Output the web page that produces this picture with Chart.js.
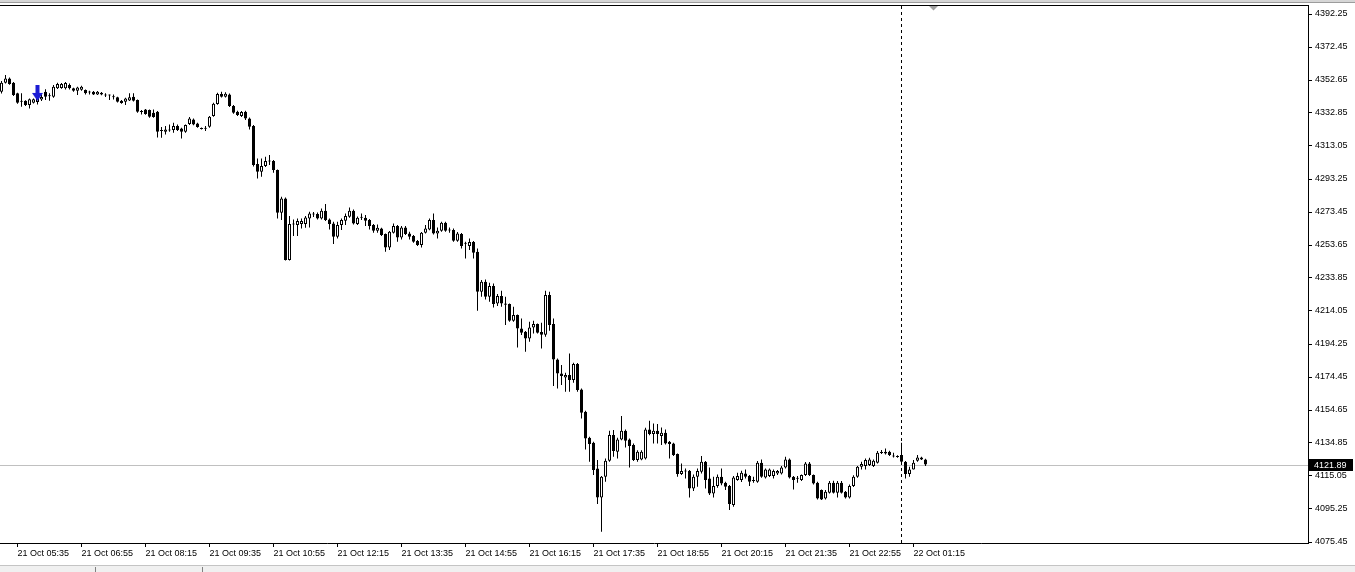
<!DOCTYPE html>
<html>
<head>
<meta charset="utf-8">
<title>M5 chart</title>
<script src="https://cdn.jsdelivr.net/npm/chart.js@4.4.1/dist/chart.umd.min.js"></script>
<style>
  html, body { margin: 0; padding: 0; background: #fff; overflow: hidden; }
  canvas { display: block; }
</style>
</head>
<body>
<canvas id="priceChart" width="1355" height="572"></canvas>
<script>
// ===== M5 candles, 21 Oct 05:15 -> 22 Oct 01:30 =====

const opens = [
    4345.6, 4351.0, 4353.6, 4351.0, 4344.7, 4339.6, 4340.2, 4337.6, 4339.0, 4339.5,
    4341.0, 4345.6, 4343.2, 4342.6, 4347.7, 4347.9, 4347.7, 4349.6, 4347.7, 4346.2,
    4346.8, 4346.6, 4345.5, 4345.6, 4344.0, 4345.0, 4343.8, 4343.8, 4342.7, 4342.3,
    4340.2, 4339.6, 4340.4, 4342.6, 4340.6, 4334.0, 4335.0, 4334.6, 4333.0, 4333.6,
    4322.6, 4321.6, 4322.4, 4322.6, 4325.0, 4323.6, 4321.6, 4326.2, 4329.0, 4326.5,
    4323.7, 4323.4, 4324.6, 4331.0, 4338.2, 4344.2, 4342.6, 4344.0, 4337.0, 4333.6,
    4331.0, 4333.6, 4329.6, 4325.0, 4302.2, 4297.6, 4301.0, 4304.2, 4304.0, 4298.6,
    4273.0, 4281.6, 4244.6, 4266.4, 4265.6, 4266.2, 4266.2, 4269.6, 4272.4, 4272.2,
    4269.6, 4274.2, 4269.0, 4266.6, 4258.6, 4265.6, 4268.2, 4270.6, 4274.2, 4266.2,
    4270.4, 4270.0, 4268.6, 4265.6, 4262.2, 4263.6, 4260.2, 4252.2, 4261.0, 4265.0,
    4258.2, 4264.2, 4260.6, 4259.0, 4256.0, 4253.6, 4261.0, 4263.0, 4268.6, 4260.6,
    4262.2, 4267.0, 4262.8, 4262.6, 4256.2, 4260.2, 4254.8, 4253.0, 4255.4, 4249.6,
    4225.6, 4231.6, 4222.6, 4229.0, 4218.6, 4223.0, 4218.6, 4218.2, 4208.2, 4211.6,
    4203.6, 4201.6, 4197.6, 4204.2, 4206.2, 4201.4, 4199.8, 4223.6, 4206.2, 4185.0,
    4176.6, 4174.2, 4175.6, 4172.6, 4182.2, 4167.0, 4153.6, 4138.0, 4135.0, 4119.6,
    4102.2, 4114.6, 4124.2, 4139.6, 4129.6, 4137.0, 4142.2, 4137.0, 4133.6, 4124.6,
    4125.0, 4125.6, 4143.0, 4140.2, 4142.2, 4139.0, 4141.0, 4135.6, 4134.6, 4128.2,
    4116.2, 4118.2, 4118.2, 4107.6, 4114.6, 4117.6, 4123.6, 4113.6, 4104.6, 4109.0,
    4114.6, 4111.0, 4109.0, 4097.6, 4112.6, 4112.6, 4116.6, 4115.0, 4112.4, 4111.6,
    4123.0, 4114.2, 4115.0, 4115.0, 4116.6, 4116.6, 4120.2, 4125.0, 4114.6, 4113.8,
    4112.6, 4115.6, 4122.6, 4115.6, 4111.0, 4106.6, 4101.6, 4105.0, 4111.0, 4105.0,
    4111.0, 4105.6, 4102.2, 4109.0, 4114.6, 4120.6, 4121.0, 4121.6, 4121.0, 4123.0,
    4129.2, 4129.6, 4129.6, 4127.2, 4126.8, 4127.6, 4123.6, 4116.2, 4119.0, 4124.2,
    4126.2, 4125.0
];
const highs = [
    4352.0, 4355.6, 4354.2, 4351.5, 4345.0, 4344.7, 4340.5, 4341.5, 4341.5, 4343.0,
    4344.0, 4347.1, 4344.7, 4349.6, 4351.0, 4350.8, 4351.5, 4350.5, 4348.0, 4348.6,
    4349.2, 4347.0, 4346.2, 4346.0, 4346.0, 4345.5, 4344.7, 4344.0, 4344.0, 4342.6,
    4340.6, 4342.0, 4344.7, 4344.7, 4341.0, 4334.6, 4335.3, 4335.0, 4335.0, 4334.0,
    4324.5, 4325.0, 4326.0, 4327.0, 4326.0, 4324.0, 4326.0, 4330.5, 4329.6, 4327.0,
    4324.2, 4325.0, 4331.0, 4339.0, 4345.0, 4345.6, 4345.3, 4344.6, 4337.6, 4334.2,
    4334.0, 4334.2, 4330.2, 4325.6, 4305.6, 4305.6, 4306.6, 4307.6, 4304.6, 4299.0,
    4282.6, 4282.2, 4271.0, 4269.0, 4269.6, 4269.6, 4271.0, 4273.6, 4273.5, 4273.2,
    4275.6, 4278.2, 4269.6, 4267.6, 4267.6, 4269.6, 4272.6, 4276.2, 4275.0, 4270.8,
    4272.6, 4271.6, 4269.2, 4266.2, 4266.0, 4264.0, 4260.6, 4262.0, 4266.6, 4265.6,
    4265.0, 4265.0, 4261.6, 4259.6, 4256.6, 4261.5, 4265.6, 4269.6, 4272.6, 4264.2,
    4267.6, 4267.6, 4264.2, 4263.6, 4261.5, 4260.8, 4255.6, 4257.6, 4256.0, 4251.6,
    4232.6, 4233.0, 4231.0, 4230.6, 4224.2, 4226.2, 4222.6, 4218.6, 4216.6, 4212.0,
    4209.6, 4202.0, 4207.6, 4208.2, 4206.6, 4207.0, 4226.2, 4225.6, 4209.6, 4185.6,
    4181.6, 4177.0, 4188.6, 4183.0, 4182.8, 4167.6, 4154.2, 4138.6, 4135.6, 4124.6,
    4115.0, 4125.6, 4142.2, 4142.6, 4138.0, 4151.0, 4143.0, 4137.6, 4134.5, 4130.5,
    4130.5, 4144.0, 4148.2, 4146.6, 4146.2, 4144.2, 4143.0, 4136.0, 4135.0, 4128.6,
    4122.6, 4119.6, 4118.6, 4116.0, 4119.6, 4127.0, 4124.0, 4120.2, 4114.6, 4116.0,
    4119.6, 4111.6, 4109.6, 4115.0, 4117.0, 4118.2, 4119.0, 4115.6, 4114.6, 4124.0,
    4125.0, 4119.6, 4119.5, 4119.0, 4118.6, 4121.0, 4126.6, 4125.5, 4115.0, 4115.0,
    4116.0, 4123.5, 4123.5, 4116.0, 4111.6, 4107.0, 4106.6, 4112.0, 4112.2, 4112.0,
    4112.0, 4106.0, 4110.0, 4115.5, 4121.0, 4123.6, 4125.5, 4126.0, 4125.0, 4130.0,
    4130.6, 4131.6, 4130.2, 4129.0, 4127.5, 4135.0, 4124.0, 4120.6, 4124.6, 4127.6,
    4126.6, 4125.4
];
const lows = [
    4344.5, 4350.5, 4349.8, 4343.0, 4338.4, 4336.6, 4337.0, 4335.6, 4338.5, 4338.0,
    4340.0, 4340.6, 4340.2, 4342.0, 4347.2, 4347.4, 4347.0, 4347.0, 4345.6, 4343.6,
    4346.2, 4344.0, 4344.0, 4343.6, 4343.6, 4343.5, 4342.4, 4340.7, 4341.0, 4339.2,
    4338.4, 4337.6, 4340.0, 4339.8, 4333.0, 4332.0, 4331.8, 4330.0, 4330.0, 4318.2,
    4318.0, 4320.0, 4321.6, 4321.0, 4322.0, 4317.6, 4321.0, 4325.6, 4325.5, 4324.0,
    4323.0, 4322.0, 4324.0, 4330.6, 4337.8, 4342.2, 4342.2, 4336.4, 4332.4, 4331.0,
    4330.5, 4328.6, 4323.0, 4300.8, 4293.6, 4294.6, 4300.5, 4301.6, 4297.0, 4269.6,
    4268.6, 4244.4, 4244.4, 4259.0, 4259.0, 4263.6, 4264.0, 4264.2, 4270.5, 4269.0,
    4269.0, 4268.0, 4263.0, 4254.2, 4257.6, 4262.6, 4265.6, 4270.0, 4266.0, 4265.6,
    4268.6, 4265.0, 4263.0, 4261.0, 4261.0, 4259.0, 4249.6, 4250.6, 4260.6, 4255.6,
    4257.0, 4259.6, 4257.0, 4255.0, 4253.0, 4252.2, 4260.5, 4262.5, 4260.0, 4257.6,
    4261.6, 4261.6, 4261.0, 4255.6, 4255.6, 4251.6, 4245.6, 4250.6, 4245.6, 4214.2,
    4222.6, 4221.0, 4219.6, 4216.2, 4217.0, 4216.6, 4205.6, 4207.6, 4207.6, 4192.2,
    4199.6, 4189.6, 4195.6, 4200.6, 4200.6, 4191.6, 4198.6, 4202.2, 4169.0, 4167.6,
    4169.6, 4165.6, 4165.6, 4171.0, 4165.6, 4149.6, 4131.0, 4123.6, 4115.6, 4098.2,
    4081.6, 4111.6, 4123.6, 4126.6, 4125.6, 4136.5, 4132.2, 4120.2, 4124.0, 4123.6,
    4124.5, 4125.0, 4139.5, 4134.6, 4134.6, 4133.6, 4134.0, 4125.6, 4127.0, 4114.6,
    4115.6, 4113.6, 4102.2, 4106.0, 4108.6, 4116.5, 4107.6, 4103.6, 4102.2, 4108.0,
    4109.5, 4106.6, 4094.6, 4096.6, 4112.2, 4111.5, 4113.6, 4109.0, 4111.0, 4111.0,
    4114.0, 4113.6, 4114.5, 4113.6, 4115.6, 4116.0, 4119.6, 4113.6, 4107.0, 4111.0,
    4112.0, 4115.0, 4115.0, 4110.0, 4101.0, 4100.6, 4101.0, 4104.5, 4104.6, 4102.2,
    4104.5, 4101.6, 4101.6, 4108.5, 4114.0, 4119.0, 4119.0, 4121.0, 4120.5, 4122.5,
    4128.2, 4128.0, 4127.0, 4126.2, 4126.0, 4123.0, 4113.6, 4114.6, 4119.0, 4123.6,
    4124.6, 4121.0
];
const closes = [
    4351.0, 4353.6, 4350.2, 4343.6, 4339.0, 4340.2, 4337.6, 4341.1, 4341.1, 4342.0,
    4342.5, 4342.6, 4342.9, 4348.6, 4350.2, 4350.2, 4350.8, 4347.7, 4346.2, 4348.2,
    4348.6, 4344.7, 4345.1, 4344.0, 4345.6, 4344.0, 4343.4, 4343.4, 4342.3, 4339.6,
    4338.8, 4341.6, 4342.3, 4340.2, 4333.6, 4333.5, 4332.3, 4330.6, 4330.4, 4321.6,
    4322.0, 4323.0, 4322.8, 4325.0, 4322.6, 4321.6, 4325.6, 4329.6, 4326.0, 4324.4,
    4323.3, 4323.8, 4330.6, 4338.4, 4344.2, 4342.6, 4344.4, 4337.0, 4333.0, 4331.6,
    4333.4, 4329.6, 4324.6, 4301.6, 4297.6, 4301.0, 4304.0, 4303.8, 4298.6, 4273.0,
    4281.6, 4244.6, 4266.2, 4266.0, 4268.0, 4268.0, 4270.2, 4272.6, 4272.0, 4269.6,
    4274.2, 4268.6, 4266.2, 4258.6, 4265.6, 4268.6, 4271.0, 4274.2, 4266.6, 4270.0,
    4270.0, 4268.2, 4265.0, 4262.2, 4264.0, 4259.6, 4252.2, 4261.6, 4265.0, 4258.2,
    4264.2, 4260.2, 4258.6, 4255.6, 4253.6, 4261.0, 4263.6, 4268.6, 4260.6, 4262.2,
    4267.0, 4262.2, 4262.4, 4256.2, 4260.6, 4253.0, 4254.4, 4255.4, 4249.0, 4225.6,
    4231.6, 4222.6, 4229.0, 4218.2, 4223.0, 4218.6, 4217.8, 4208.2, 4211.6, 4203.6,
    4201.0, 4197.6, 4204.2, 4206.2, 4201.0, 4199.8, 4223.6, 4205.6, 4185.0, 4176.6,
    4175.0, 4175.6, 4172.6, 4182.2, 4166.6, 4153.0, 4137.6, 4134.2, 4118.6, 4102.2,
    4114.6, 4124.2, 4139.6, 4130.0, 4137.0, 4142.2, 4136.2, 4133.0, 4124.6, 4129.6,
    4129.6, 4143.0, 4140.2, 4142.2, 4140.2, 4141.0, 4134.6, 4134.2, 4127.6, 4116.2,
    4118.0, 4117.8, 4107.6, 4114.6, 4118.0, 4123.6, 4112.6, 4104.6, 4109.0, 4114.6,
    4110.6, 4108.6, 4098.2, 4114.2, 4115.0, 4117.0, 4114.6, 4111.6, 4112.0, 4123.0,
    4114.6, 4119.0, 4119.0, 4118.0, 4118.0, 4120.2, 4125.0, 4114.2, 4112.6, 4113.4,
    4115.6, 4122.6, 4115.6, 4110.6, 4101.6, 4101.0, 4105.6, 4111.0, 4105.0, 4111.0,
    4105.0, 4102.2, 4109.0, 4114.6, 4120.6, 4122.2, 4124.6, 4125.0, 4124.2, 4129.0,
    4128.8, 4128.6, 4127.6, 4126.8, 4126.4, 4123.6, 4116.2, 4119.0, 4123.0, 4126.2,
    4125.0, 4121.9
];

// time axis: bar index of each label, and the label text
const timeTickIndex = [4, 20, 36, 52, 68, 84, 100, 116, 132, 148, 164, 180, 196, 212, 228];
const timeTickLabels = [
    '21 Oct 05:35', '21 Oct 06:55', '21 Oct 08:15', '21 Oct 09:35', '21 Oct 10:55',
    '21 Oct 12:15', '21 Oct 13:35', '21 Oct 14:55', '21 Oct 16:15', '21 Oct 17:35',
    '21 Oct 18:55', '21 Oct 20:15', '21 Oct 21:35', '21 Oct 22:55', '22 Oct 01:15'
];

const priceTicks = [
    4392.25, 4372.45, 4352.65, 4332.85, 4313.05, 4293.25, 4273.45, 4253.65, 4233.85,
    4214.05, 4194.25, 4174.45, 4154.65, 4134.85, 4115.05, 4095.25, 4075.45
];

const lastPrice = 4121.89;
const sessionStartIndex = 225;   // 22 Oct 01:00, period separator
const shiftMarkIndex = 233;
const sellArrowIndex = [9];
const sellArrowPrice = [4344.9];

const PRICE_MIN = 4074.85;
const PRICE_MAX = 4397.05;
const SLOT_MIN = -0.375;
const SLOT_MAX = 326.625;

const axisFont = { family: "'Liberation Sans', Arial, sans-serif", size: 9 };

function makeSellArrow() {
    const c = document.createElement('canvas');
    c.width = 11;
    c.height = 16;
    const g = c.getContext('2d');
    g.fillStyle = '#1c1cd4';
    g.beginPath();
    g.moveTo(3.5, 0);
    g.lineTo(7.5, 0);
    g.lineTo(7.5, 8);
    g.lineTo(11, 8);
    g.lineTo(5.5, 16);
    g.lineTo(0, 8);
    g.lineTo(3.5, 8);
    g.closePath();
    g.fill();
    return c;
}

const isBull = i => closes[i] >= opens[i];

const terminalFrame = {
    id: 'terminalFrame',
    beforeDraw(chart) {
        const { ctx, width, height, chartArea: a } = chart;
        ctx.save();
        ctx.fillStyle = '#ffffff';
        ctx.fillRect(0, 0, width, height);
        ctx.fillStyle = '#d6d6d6';
        ctx.fillRect(0, 0, width, 2);
        ctx.fillStyle = '#9c9c9c';
        ctx.fillRect(0, 2, width, 1);
        ctx.fillStyle = '#000000';
        ctx.fillRect(0, a.top - 1, a.right + 1, 1);
        // status strip at the bottom
        ctx.fillStyle = '#c4c4c4';
        ctx.fillRect(0, height - 7, width, 1);
        ctx.fillStyle = '#f0f0f0';
        ctx.fillRect(0, height - 6, width, 6);
        ctx.fillStyle = '#808080';
        ctx.fillRect(95, height - 5, 1, 5);
        ctx.fillRect(202, height - 5, 1, 5);
        ctx.restore();
    },
    beforeDatasetsDraw(chart) {
        const { ctx, chartArea: a, scales: { x, y } } = chart;
        ctx.save();
        ctx.lineWidth = 1;
        // bid line
        const py = Math.round(y.getPixelForValue(lastPrice)) + 0.5;
        ctx.strokeStyle = '#c0c0c0';
        ctx.beginPath();
        ctx.moveTo(a.left, py);
        ctx.lineTo(a.right, py);
        ctx.stroke();
        // period separator
        const sx = Math.floor(x.getPixelForValue(sessionStartIndex)) + 0.5;
        ctx.strokeStyle = '#000000';
        ctx.setLineDash([3, 3]);
        ctx.beginPath();
        ctx.moveTo(sx, a.top);
        ctx.lineTo(sx, a.bottom);
        ctx.stroke();
        ctx.restore();
    },
    afterDraw(chart) {
        const { ctx, chartArea: a, scales: { x, y } } = chart;
        ctx.save();
        // chart shift marker
        const mx = x.getPixelForValue(shiftMarkIndex);
        ctx.fillStyle = '#a0a0a0';
        ctx.beginPath();
        ctx.moveTo(mx - 4.5, a.top);
        ctx.lineTo(mx + 4.5, a.top);
        ctx.lineTo(mx, a.top + 4.5);
        ctx.closePath();
        ctx.fill();
        // last price tag on the axis
        const py = Math.round(y.getPixelForValue(lastPrice));
        ctx.fillStyle = '#000000';
        ctx.fillRect(a.right + 1, py - 6, 44, 12);
        ctx.fillStyle = '#ffffff';
        ctx.font = axisFont.size + 'px ' + axisFont.family;
        ctx.textBaseline = 'middle';
        ctx.textAlign = 'left';
        ctx.fillText(lastPrice.toFixed(2), a.right + 6, py + 0.5);
        ctx.restore();
    }
};

const ctx = document.getElementById('priceChart').getContext('2d');
new Chart(ctx, {
    type: 'bar',
    data: {
        datasets: [
            {
                type: 'scatter',
                data: sellArrowIndex.map((xi, n) => ({ x: xi, y: sellArrowPrice[n] })),
                pointStyle: makeSellArrow(),
                order: -1
            },
            {
                label: 'body',
                data: opens.map((o, i) => ({ x: i, y: [o, closes[i]] })),
                backgroundColor: c => isBull(c.dataIndex) ? '#ffffff' : '#000000',
                borderColor: '#000000',
                borderWidth: 1,
                borderSkipped: false,
                barThickness: 3,
                minBarLength: 1,
                inflateAmount: 0,
                grouped: false,
                order: 0
            },
            {
                label: 'wick',
                data: lows.map((l, i) => ({ x: i, y: [l, highs[i]] })),
                backgroundColor: '#000000',
                borderWidth: 0,
                barThickness: 1,
                minBarLength: 1,
                inflateAmount: 0,
                grouped: false,
                order: 1
            }
        ]
    },
    options: {
        responsive: false,
        devicePixelRatio: 1,
        animation: false,
        layout: {
            autoPadding: false,
            padding: { top: 6, left: 0, right: 0, bottom: 0 }
        },
        plugins: {
            legend: { display: false },
            tooltip: { enabled: false }
        },
        scales: {
            x: {
                type: 'linear',
                position: 'bottom',
                min: SLOT_MIN,
                max: SLOT_MAX,
                bounds: 'data',
                offset: false,
                afterBuildTicks: s => { s.ticks = timeTickIndex.map(v => ({ value: v })); },
                afterFit: s => {
                    s.height = 29;
                    s.paddingLeft = 0;
                    s.paddingRight = 0;
                },
                grid: {
                    offset: false,
                    drawOnChartArea: false,
                    drawTicks: true,
                    tickLength: 4,
                    color: '#000000'
                },
                border: { display: true, color: '#000000', width: 1 },
                ticks: {
                    autoSkip: false,
                    maxRotation: 0,
                    minRotation: 0,
                    align: 'start',
                    padding: 1,
                    color: '#000000',
                    font: { family: axisFont.family, size: axisFont.size },
                    callback: (v, i) => timeTickLabels[i]
                }
            },
            y: {
                type: 'linear',
                position: 'right',
                min: PRICE_MIN,
                max: PRICE_MAX,
                bounds: 'data',
                afterBuildTicks: s => { s.ticks = priceTicks.map(v => ({ value: v })); },
                afterFit: s => {
                    s.width = 47;
                    s.paddingTop = 0;
                    s.paddingBottom = 0;
                },
                grid: {
                    drawOnChartArea: false,
                    drawTicks: true,
                    tickLength: 4,
                    color: '#000000'
                },
                border: { display: true, color: '#000000', width: 1 },
                ticks: {
                    padding: 3,
                    color: '#000000',
                    font: { family: axisFont.family, size: axisFont.size },
                    callback: v => Number(v).toFixed(2)
                }
            }
        }
    },
    plugins: [terminalFrame]
});
</script>
</body>
</html>
